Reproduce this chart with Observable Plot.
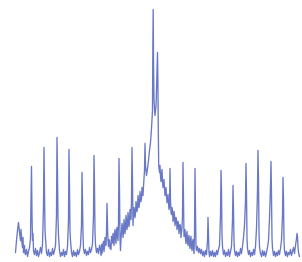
<!DOCTYPE html>
<html>
<head>
<meta charset="utf-8">
<script src="https://cdn.jsdelivr.net/npm/d3@7"></script>
<script src="https://cdn.jsdelivr.net/npm/@observablehq/plot@0.6"></script>
<style>
html,body{margin:0;padding:0;background:#fff;}
#chart svg{display:block;}
</style>
</head>
<body>
<div id="chart"></div>
<script>
const channel = [15,16,17,18,19,20,21,22,23,24,25,26,27,28,29,30,30.5,31,31.5,32,32.5,33,34,35,36,37,38,39,40,41,42,43,43.5,44,44.5,45,46,47,48,49,50,51,52,53,54,55,56,56.5,57,57.5,58,59,60,61,62,63,64,65,66,67,68,68.5,69,69.5,70,71,72,73,74,75,76,77,78,79,80,81,81.5,82,82.5,83,84,85,86,87,88,89,90,91,92,93,93.5,94,94.5,95,96,97,98,99,100,101,102,103,104,105,106,106.5,107,107.5,108,109,110,111,112,113,114,115,116,117,118,118.5,119,119.5,120,121,122,123,124,125,126,127,128,129,130,131,131.5,132,132.5,133,134,135,136,137,138,139,140,141,142,143,144,144.5,145,146,147,148,149,150,151,152,152.4,152.7,153,153.5,154,154.5,155,155.5,156,156.5,157,157.4,157.8,158.2,159,160,161,162,163,164,165,166,167,168,169,169.5,170,170.5,171,172,173,174,175,176,177,178,179,180,181,182,182.5,183,183.5,184,185,186,187,188,189,190,191,192,193,194,194.5,195,195.5,196,197,198,199,200,201,202,203,204,205,206,207,207.5,208,208.5,209,210,211,212,213,214,215,216,217,218,219,220,220.5,221,221.5,222,223,224,225,226,227,228,229,230,231,232,232.5,233,233.5,234,235,236,237,238,239,240,241,242,243,244,245,245.5,246,246.5,247,248,249,250,251,252,253,254,255,256,257,257.5,258,258.5,259,260,261,262,263,264,265,266,267,268,269,270,270.5,271,271.5,272,273,274,275,276,277,278,279,280,281,282,282.5,283,283.5,284,285,286,287,288,289,290,291,292,293,294,295,296,296.5,297,297.5,298,299];
const intensity = [5,17,27,35,25,17,21,10,5,12,3,8,1,6,10,19,57,91,42,17,24,7,3,9,2,7,1,5,10,4,13,52,110,67,27,19,5,2,8,1,5,2,9,3,7,12,42,120,82,39,22,7,1,5,2,8,1,6,3,11,37,108,72,27,17,5,1,7,2,5,1,8,3,6,12,32,85,57,22,9,4,8,2,6,3,10,5,8,14,42,102,72,25,13,5,9,4,12,7,13,8,16,11,19,25,54,32,17,11,17,13,21,15,19,24,18,26,21,35,99,67,19,7,26,31,25,33,29,37,32,40,35,43,57,110,77,32,42,47,44,52,49,57,54,61,59,67,71,87,114,92,82,89,97,107,115,129,147,217,248,197,157,149,142,147,152,167,187,205,177,127,92,85,81,83,76,73,69,65,61,58,54,51,89,57,45,43,47,39,42,35,38,31,34,28,31,25,42,95,57,21,24,19,23,16,20,14,18,11,15,9,22,89,47,11,7,11,5,9,4,8,2,6,1,7,3,17,40,22,5,1,6,2,7,1,5,1,7,3,8,12,42,87,67,22,11,3,7,1,5,2,8,1,6,11,37,72,47,17,7,2,6,1,5,2,9,4,11,20,32,57,94,62,19,9,3,7,1,5,2,8,3,11,29,67,107,77,25,11,4,1,7,2,6,1,5,10,17,39,72,96,62,19,9,2,6,1,5,2,7,3,9,17,42,80,57,17,7,2,6,1,5,3,8,2,6,10,4,12,19,24,21,11,5,1];

// extra fine-scale noise samples
const noiseChannel = [20.5,21.5,22.5,24.5,100.5,101.5,102.5,103.5,104.5,105.5,108.5,109.5,110.5,111.5,112.5,113.5,114.5,115.5,116.5,117.5,120.5,121.5,122.5,123.5,124.5,125.5,126.5,127.5,128.5,129.5,130.5,133.5,134.5,135.5,136.5,137.5,138.5,139.5,140.5,141.5,142.5,159.5,160.5,161.5,162.5,163.5,164.5,165.5,166.5,167.5,168.5,171.5,172.5,173.5,174.5,175.5,176.5,177.5,178.5,179.5,180.5,181.5,184.5,185.5,186.5,187.5,188.5,189.5,190.5,191.5,192.5,193.5];
const noiseIntensity = [28,14,20,4,2,4,14,6,20,12,18,9,8,14,24,12,28,14,30,17,18,34,20,38,24,42,28,45,31,48,38,50,40,56,46,62,50,66,56,70,62,92,76,88,70,78,62,70,55,63,48,50,36,46,32,40,28,36,24,33,20,30,28,14,26,12,22,9,21,7,18,4];

const spectrum = d3.sort(
  channel.map((c, i) => ({channel: c, intensity: intensity[i]}))
    .concat(noiseChannel.map((c, i) => ({channel: c, intensity: noiseIntensity[i]}))),
  d => d.channel
);

const chart = Plot.plot({
  width: 302,
  height: 262,
  margin: 0,
  x: {domain: [0, 302], axis: null},
  y: {domain: [-5, 257], axis: null},
  style: {background: "#fff"},
  marks: [
    Plot.line(spectrum, {x: "channel", y: "intensity", stroke: "#4558b8", strokeWidth: 1.35, strokeOpacity: 0.8})
  ]
});
document.getElementById("chart").appendChild(chart);
</script>
</body>
</html>
